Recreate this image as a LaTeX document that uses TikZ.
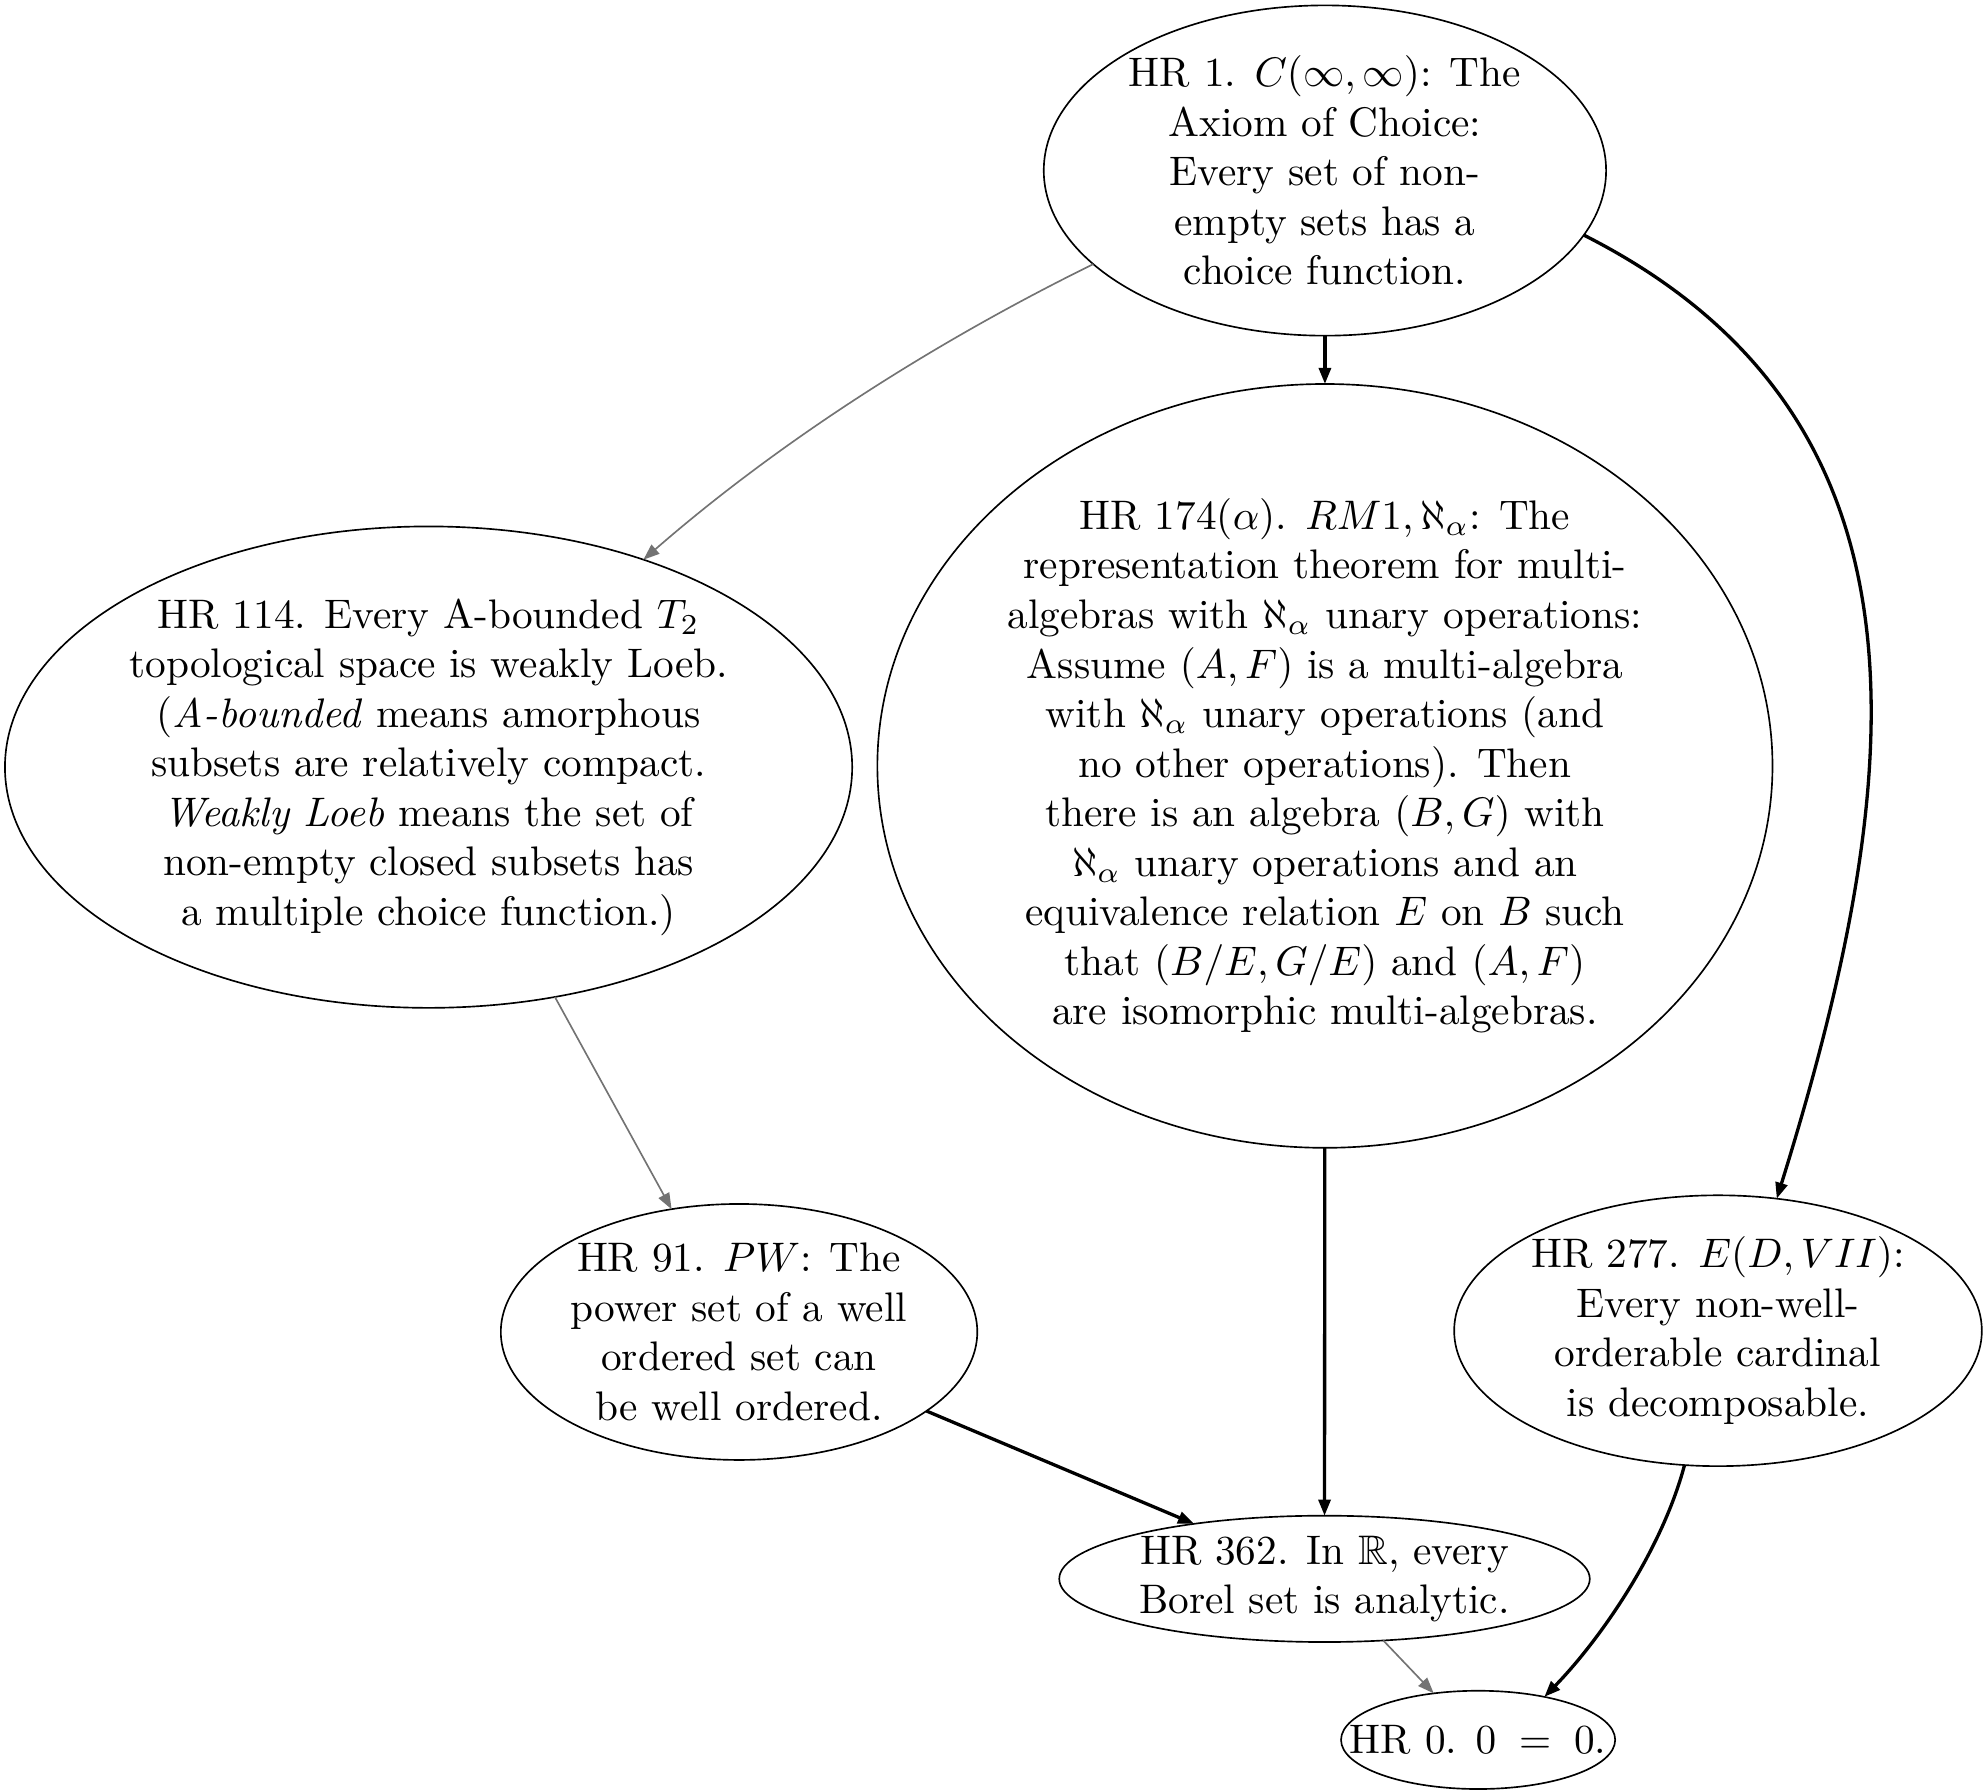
\documentclass[tikz,border=0pt]{standalone}
\usepackage{amssymb}
\usetikzlibrary{shapes.geometric,arrows.meta}
\begin{document}
\begin{tikzpicture}[x=1pt,y=1pt,
  ell/.style={draw,ellipse,inner sep=0pt,outer sep=0pt,line width=0.4pt},
  txt/.style={align=center,inner sep=0pt},
  blk/.style={draw=black,line width=0.8pt,-{Triangle[length=3.9pt,width=2.9pt]}},
  gry/.style={draw=black!55,line width=0.4pt,-{Triangle[length=3.9pt,width=2.9pt]}},
]
\useasboundingbox (0,0) rectangle (481.5,-434.0);
% ellipses
\node[ell,minimum width=136.2pt,minimum height=80.0pt] (n1) at (320.9,-41.3) {};
\node[ell,minimum width=216.8pt,minimum height=185.0pt] (n174) at (320.9,-185.5) {};
\node[ell,minimum width=205.2pt,minimum height=116.6pt] (n114) at (103.8,-185.8) {};
\node[ell,minimum width=115.4pt,minimum height=62.0pt] (n91) at (179.0,-322.6) {};
\node[ell,minimum width=127.8pt,minimum height=65.6pt] (n277) at (416.1,-322.3) {};
\node[ell,minimum width=128.5pt,minimum height=30.6pt] (n362) at (320.8,-382.4) {};
\node[ell,minimum width=66.4pt,minimum height=23.8pt] (n0) at (358.0,-421.4) {};
% texts
\node[txt] (t1) at (n1.center) {HR 1. $C(\infty,\infty)$: The\\Axiom of Choice:\\Every set of non-\\empty sets has a\\choice function.};
\node[txt] (t174) at (n174.center) {HR 174($\alpha$). $RM1,\aleph_{\alpha}$: The\\representation theorem for multi-\\algebras with $\aleph_{\alpha}$ unary operations:\\Assume $(A,F)$ is a multi-algebra\\with $\aleph_{\alpha}$ unary operations (and\\no other operations). Then\\there is an algebra $(B,G)$ with\\$\aleph_{\alpha}$ unary operations and an\\equivalence relation $E$ on $B$ such\\that $(B/E,G/E)$ and $(A,F)$\\are isomorphic multi-algebras.};
\node[txt] (t114) at (n114.center) {HR 114. Every A-bounded $T_2$\\topological space is weakly Loeb.\\(\textit{A-bounded} means amorphous\\subsets are relatively compact.\\\textit{Weakly Loeb} means the set of\\non-empty closed subsets has\\a multiple choice function.)};
\node[txt] (t91) at (n91.center) {HR 91. $PW$: The\\power set of a well\\ordered set can\\be well ordered.};
\node[txt] (t277) at (n277.center) {HR 277. $E(D,VII)$:\\Every non-well-\\orderable cardinal\\is decomposable.};
\node[txt] (t362) at (n362.center) {HR 362. In $\mathbb{R}$, every\\Borel set is analytic.};
\node[txt] (t0) at (n0.center) {HR 0. $0\;=\;0$.};
% edges
\draw[gry] (n1.202) .. controls (225.7,-83.2) and (188.4,-107.2) .. (n114.44);
\draw[blk] (n1) -- (n174);
\draw[blk] (n1.346.6) .. controls (471.4,-101.3) and (462.2,-187.9) .. (n277.66);
\draw[gry] (n114) -- (n91);
\draw[blk] (n174) -- (n362);
\draw[blk] (n91) -- (n362);
\draw[blk] (n277.256) .. controls (402.3,-376.2) and (387.0,-397.7) .. (n0.33);
\draw[gry] (n362) -- (n0);
\end{tikzpicture}
\end{document}
